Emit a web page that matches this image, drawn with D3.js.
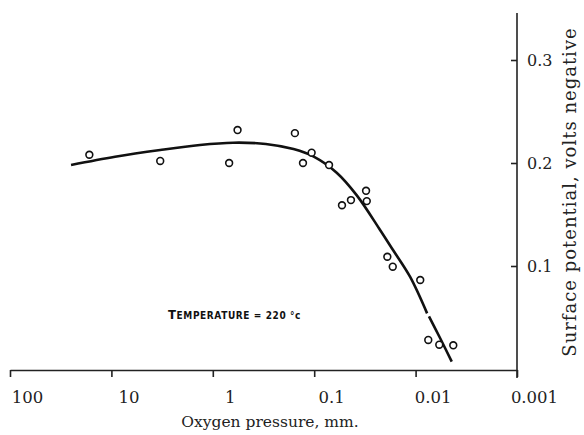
<!DOCTYPE html>
<html>
<head>
<meta charset="utf-8">
<script src="https://cdn.jsdelivr.net/npm/d3@7"></script>
<style>
  html, body { margin: 0; padding: 0; background: #fff; }
  svg { display: block; }
</style>
</head>
<body>
<svg id="chart" width="584" height="435"></svg>
<script>
// Oxygen pressure (mm) of each measurement
const pressure = [16.5, 3.3, 0.69, 0.57, 0.155, 0.106, 0.129, 0.0714, 0.0532, 0.0434,
                  0.0308, 0.0303, 0.019, 0.0168, 0.009, 0.0075, 0.00584, 0.00425];
// Surface potential (volts negative) of each measurement
const potential = [0.208, 0.202, 0.200, 0.232, 0.229, 0.210, 0.200, 0.198, 0.159, 0.164,
                   0.173, 0.163, 0.109, 0.0993, 0.0864, 0.0282, 0.0236, 0.023];

// Smoothed trend through the measurements (drawn in two strokes)
const curvePressureA = [25, 9.2, 3.3, 1.34, 0.63, 0.3, 0.16, 0.1, 0.06, 0.038, 0.0224, 0.0167, 0.01135, 0.0077];
const curvePotentialA = [0.198, 0.206, 0.2126, 0.2175, 0.2197, 0.2185, 0.2135, 0.206, 0.1906, 0.1686, 0.135, 0.1155, 0.0896, 0.054];
const curvePressureB = [0.00738, 0.00574, 0.0044];
const curvePotentialB = [0.051, 0.0301, 0.0071];

// Axis ticks
const xTicks = [100, 10, 1, 0.1, 0.01, 0.001];
const xTickLabels = ["100", "10", "1", "0.1", "0.01", "0.001"];
const yTicks = [0.1, 0.2, 0.3];
const yTickLabels = ["0.1", "0.2", "0.3"];

const svg = d3.select("#chart");
const serif = "'DejaVu Serif', 'Liberation Serif', serif";

const x = d3.scaleLog().domain([100, 0.001]).range([10, 517]);
const y = d3.scaleLinear().domain([0, 0.3]).range([369, 60]);

// Horizontal axis
const xAxis = d3.axisBottom(x)
  .tickValues(xTicks)
  .tickSizeInner(7)
  .tickSizeOuter(0)
  .tickPadding(14)
  .tickFormat((d, i) => xTickLabels[i]);

const gx = svg.append("g").attr("transform", "translate(0,370)").call(xAxis);
gx.select(".domain").attr("stroke", "#222").attr("stroke-width", 1.6);
gx.selectAll(".tick line").attr("stroke", "#222").attr("stroke-width", 1.6);
gx.selectAll(".tick text")
  .attr("dx", 17)
  .attr("fill", "#222")
  .style("font-family", serif)
  .style("font-size", "16.5px");

// Vertical axis on the right
svg.append("line")
  .attr("x1", 517).attr("x2", 517)
  .attr("y1", 13).attr("y2", 378)
  .attr("stroke", "#222").attr("stroke-width", 1.6);

const yAxis = d3.axisRight(y)
  .tickValues(yTicks)
  .tickSizeInner(-6)
  .tickSizeOuter(0)
  .tickPadding(10)
  .tickFormat((d, i) => yTickLabels[i]);

const gy = svg.append("g").attr("transform", "translate(517,0)").call(yAxis);
gy.select(".domain").remove();
gy.selectAll(".tick line").attr("stroke", "#222").attr("stroke-width", 1.6);
gy.selectAll(".tick text")
  .attr("fill", "#222")
  .style("font-family", serif)
  .style("font-size", "16px");

// Axis titles
svg.append("text")
  .attr("x", 270).attr("y", 427)
  .attr("text-anchor", "middle")
  .attr("fill", "#222")
  .style("font-family", serif)
  .style("font-size", "15.5px")
  .text("Oxygen pressure, mm.");

svg.append("text")
  .attr("transform", "translate(576,192) rotate(-90)")
  .attr("text-anchor", "middle")
  .attr("fill", "#222")
  .style("font-family", serif)
  .style("font-size", "18px")
  .style("letter-spacing", "1px")
  .text("Surface potential, volts negative");

// Trend curve
const line = d3.line()
  .x(d => x(d[0]))
  .y(d => y(d[1]))
  .curve(d3.curveCatmullRom.alpha(0.5));

[[curvePressureA, curvePotentialA], [curvePressureB, curvePotentialB]].forEach(([ps, vs]) => {
  svg.append("path")
    .datum(ps.map((p, i) => [p, vs[i]]))
    .attr("d", line)
    .attr("fill", "none")
    .attr("stroke", "#111")
    .attr("stroke-width", 2.6)
    .attr("stroke-linecap", "butt");
});

// Measured points
svg.append("g")
  .selectAll("circle")
  .data(pressure.map((p, i) => [p, potential[i]]))
  .join("circle")
  .attr("cx", d => x(d[0]))
  .attr("cy", d => y(d[1]))
  .attr("r", 3.4)
  .attr("fill", "#fff")
  .attr("stroke", "#111")
  .attr("stroke-width", 1.6);

// Temperature note in small capitals
const note = svg.append("text")
  .attr("x", 168).attr("y", 319)
  .attr("fill", "#111")
  .style("font-family", "'DejaVu Sans Condensed', 'DejaVu Sans', sans-serif")
  .style("font-weight", "bold")
  .style("letter-spacing", "0.6px");
note.append("tspan").style("font-size", "13px").text("T");
note.append("tspan").style("font-size", "10px").text("EMPERATURE = 220 °c");
</script>
</body>
</html>
